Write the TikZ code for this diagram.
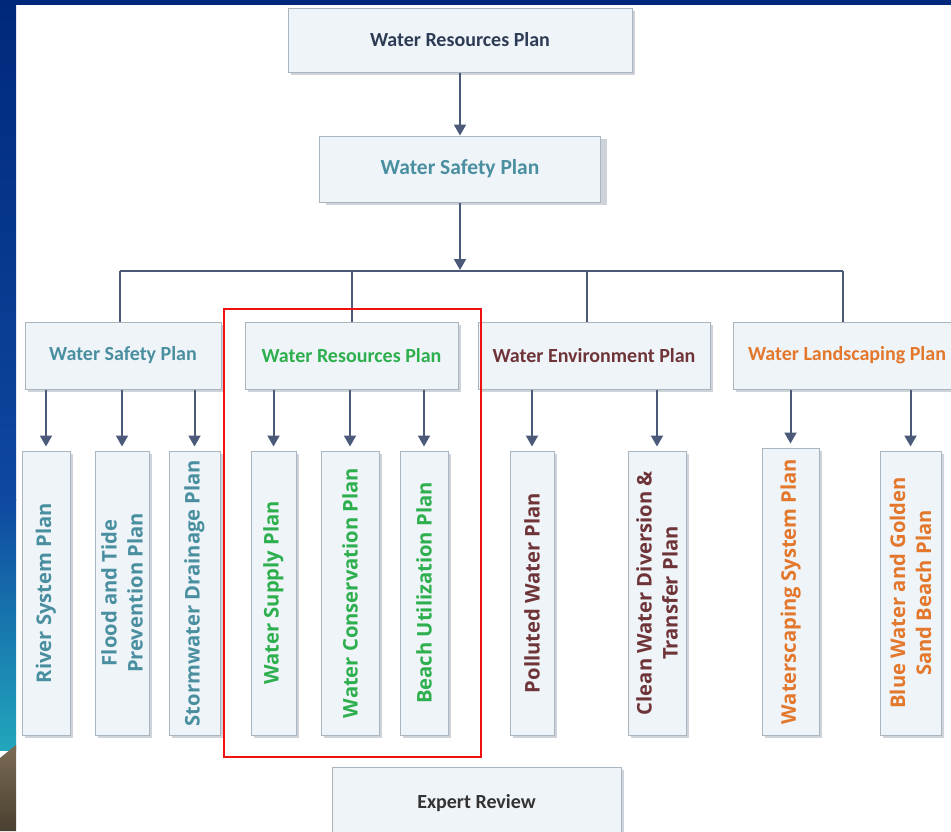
\documentclass[tikz,border=0pt]{standalone}
\usepackage{fontspec}
\setmainfont{Carlito}
\newfontfamily\vfont{Open Sans}
\usetikzlibrary{arrows.meta}
\definecolor{navytxt}{HTML}{2E3B55}
\definecolor{tealtxt}{HTML}{4A8FA0}
\definecolor{greentxt}{HTML}{2EAF4E}
\definecolor{maroontxt}{HTML}{6E3438}
\definecolor{orangetxt}{HTML}{E3772B}
\definecolor{greytxt}{HTML}{333333}
\definecolor{boxfill}{HTML}{EEF4F8}
\definecolor{boxline}{HTML}{A9B5BF}
\definecolor{shadowc}{HTML}{CDD3D8}
\definecolor{arrowc}{HTML}{4A5A78}
\definecolor{frameA}{HTML}{00287A}
\definecolor{frameB}{HTML}{0E48A0}
\definecolor{frameC}{HTML}{22A6BC}
\definecolor{brownA}{HTML}{7B6B55}
\definecolor{brownB}{HTML}{4A4030}
\definecolor{redc}{HTML}{F01010}
\tikzset{
  pbox/.style={draw=boxline, line width=1pt, fill=boxfill, inner sep=0pt,
    font=\bfseries\fontsize{20}{22}\selectfont},
  hbox/.style={pbox, minimum height=67pt},
  vbox/.style={pbox, rotate=90, minimum width=284pt, align=center,
    font=\vfont\bfseries\fontsize{20.2}{26}\selectfont},
  arr/.style={draw=arrowc, line width=2pt, -{Triangle[width=12pt,length=11pt]}},
  link/.style={draw=arrowc, line width=2pt},
}
\begin{document}
\begin{tikzpicture}[x=1pt,y=-1pt]
\useasboundingbox (0,0) rectangle (951,831);
\clip (0,0) rectangle (951,831);
% slide background
\fill[white] (0,0) rectangle (951,831);
\fill[frameA] (0,0) rectangle (951,5);
\shade[top color=frameA, bottom color=frameB] (0,0) rectangle (16,500);
\shade[top color=frameB, bottom color=frameC] (0,499) rectangle (16,750);
\shade[top color=brownA, bottom color=brownB] (0,758) -- (16,745) -- (16,831) -- (0,831) -- cycle;

% shadows
\foreach \a/\b/\c/\d in {288/8/632/72, 323/136/604/202, 25/322/221/389, 245/322/458/389, 478/322/710/389, 733/322/961/389, 332/767/621/840,
  22/451/70/735, 95/451/149/735, 169/451/220/735, 251/451/296/735, 321/451/379/735, 400/451/448/735, 510/451/554/735, 628/451/686/735, 762/448/819/735, 880/451/941/735}
  \fill[shadowc] (\a+3,\b+3) rectangle (\c+3,\d+3);

% top
\node[pbox, minimum width=344pt, minimum height=64pt, text=navytxt] (t1) at (460,40) {Water Resources Plan};
\node[pbox, minimum width=281pt, minimum height=66pt, text=tealtxt, font=\bfseries\fontsize{21.5}{23}\selectfont] (t2) at (460,169) {Water Safety Plan};
\coordinate (bus) at (460,271);
\draw[arr] (t1.south) -- (t2.north);
\draw[arr, shorten >=1pt] (t2.south) -- (bus);

% level 2
\node[hbox, minimum width=196pt, text=tealtxt] (s1) at (123,355.5) {Water Safety Plan};
\node[hbox, minimum width=213pt, text=greentxt] (s2) at (351.5,355.5) {Water Resources Plan};
\node[hbox, minimum width=232pt, text=maroontxt] (s3) at (594,355.5) {Water Environment Plan};
\node[hbox, minimum width=228pt, text=orangetxt] (s4) at (847,355.5) {Water Landscaping Plan};

\coordinate (b1) at (120,271);
\coordinate (b2) at (352,271);
\coordinate (b3) at (587,271);
\coordinate (b4) at (843,271);
\draw[link] (b1) -- (b4);
\draw[link] (b1) -- (b1 |- s1.north);
\draw[link] (b2) -- (b2 |- s2.north);
\draw[link] (b3) -- (b3 |- s3.north);
\draw[link] (b4) -- (b4 |- s4.north);

% level 3
\node[vbox, minimum height=48pt, text=tealtxt] (c1) at (46,593) {River System Plan};
\node[vbox, minimum height=54pt, text=tealtxt] (c2) at (122,593) {Flood and Tide\\Prevention Plan};
\node[vbox, minimum height=51pt, text=tealtxt] (c3) at (194.5,593) {Stormwater Drainage Plan};
\node[vbox, minimum height=45pt, text=greentxt] (c4) at (273.5,593) {Water Supply Plan};
\node[vbox, minimum height=58pt, text=greentxt] (c5) at (350,593) {Water Conservation Plan};
\node[vbox, minimum height=48pt, text=greentxt] (c6) at (424,593) {Beach Utilization Plan};
\node[vbox, minimum height=44pt, text=maroontxt] (c7) at (532,593) {Polluted Water Plan};
\node[vbox, minimum height=58pt, text=maroontxt] (c8) at (657,593) {Clean Water Diversion \&\\Transfer Plan};
\node[vbox, minimum height=57pt, minimum width=287pt, text=orangetxt] (c9) at (790.5,591.5) {Waterscaping System Plan};
\node[vbox, minimum height=61pt, text=orangetxt] (c10) at (910.5,593) {Blue Water and Golden\\Sand Beach Plan};

\foreach \p/\c in {s1/c1, s1/c2, s1/c3, s2/c4, s2/c5, s2/c6, s3/c7, s3/c8, s4/c9, s4/c10}
  \draw[arr, shorten >=4pt] (\p.south -| \c.center) -- (\c.east);

% highlight
\draw[redc, line width=2.5pt] (224,309) rectangle (481,757);

% bottom
\node[pbox, minimum width=289pt, minimum height=73pt, text=greytxt] (er) at (476.5,803.5) {Expert Review};
\end{tikzpicture}
\end{document}
